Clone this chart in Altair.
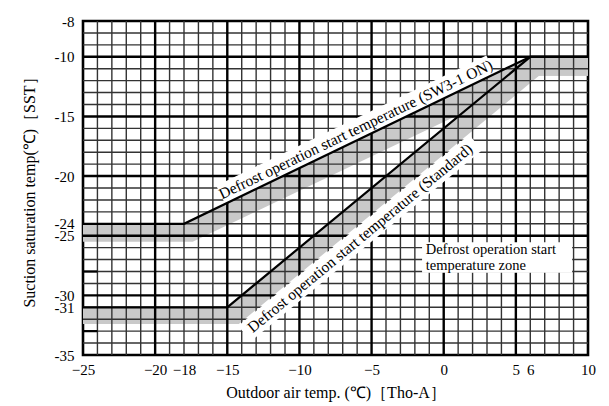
import altair as alt
import pandas as pd

# ---- axis ticks ----
x_ticks = [-25, -20, -18, -15, -10, -5, 0, 5, 6, 10]
y_tick_pos = [-35, -31, -30, -25, -24, -20, -15, -10, -7]
y_tick_text = ["-35", "-31", "-30", "-25", "-24", "-20", "-15", "-10", "-8"]

# ---- defrost lines ----
sw_x = [-25, -18, 6, 10]
sw_y = [-24, -24, -10, -10]
std_x = [-25, -15, 6, 10]
std_y = [-31, -31, -10, -10]

# ---- grey zone bands ----
sw_band_x = [-25, -18, -17.4, 6, 6.6, 10]
sw_band_top = [-24, -24, -23.65, -10, -10, -10]
sw_band_bot = [-25.5, -25.5, -25.5, -12.0, -11.6, -11.6]
std_band_x = [-25, -15, -14.2, 6, 6.6, 10]
std_band_top = [-31, -31, -30.2, -10, -10, -10]
std_band_bot = [-32.4, -32.4, -32.4, -12.2, -11.6, -11.6]

# ---- labels ----
label_texts = ["Defrost operation start temperature (SW3-1 ON)",
               "Defrost operation start temperature (Standard)"]
label_x = [-6.1, -5.8]
label_y = [-16.1, -25.2]
label_angle = [334.3, 320.4]
box_x1 = [-15.46, -13.81]
box_y1 = [-21.56, -33.21]
box_x2 = [3.26, 2.21]
box_y2 = [-10.64, -17.19]

zone_lines = ["Defrost operation start", "temperature zone"]
zone_x = [-1.25, -1.25]
zone_y = [-26.2, -27.5]
zone_box = {"x": -1.5, "x2": 8.9, "y": -25.55, "y2": -28.1}

# extra short ticks on the left edge
stub_y = [-28, -33]

XMIN, XMAX, YMIN, YMAX = -25, 10, -35, -7

minor_x = [v for v in range(XMIN + 1, XMAX) if v % 5 != 0]
major_x = [v for v in range(XMIN + 1, XMAX) if v % 5 == 0]
minor_y = [v for v in range(YMIN + 1, YMAX) if v % 5 != 0]
major_y = [v for v in range(YMIN + 1, YMAX) if v % 5 == 0]

label_expr = " : ".join(
    [f"datum.value == {p} ? '{t}'" for p, t in zip(y_tick_pos, y_tick_text)]
) + " : datum.label"

xscale = alt.Scale(domain=[XMIN, XMAX], nice=False, zero=False)
yscale = alt.Scale(domain=[YMIN, YMAX], nice=False, zero=False)
xaxis = alt.Axis(values=x_ticks, labelFlush=False, labelOverlap=False,
                 labelPadding=7, titlePadding=7,
                 title="Outdoor air temp. (℃)［Tho-A］")
yaxis = alt.Axis(values=y_tick_pos, labelExpr=label_expr, labelFlush=False,
                 labelOverlap=False, labelPadding=9, titlePadding=17,
                 title="Suction saturation temp(℃)［SST］")


def X(field="x"):
    return alt.X(field, type="quantitative", scale=xscale, axis=xaxis)


def Y(field="y"):
    return alt.Y(field, type="quantitative", scale=yscale, axis=yaxis)


band_df = pd.concat([
    pd.DataFrame({"x": sw_band_x, "y": sw_band_top, "y2": sw_band_bot, "g": "sw"}),
    pd.DataFrame({"x": std_band_x, "y": std_band_top, "y2": std_band_bot, "g": "std"}),
])
bands = alt.Chart(band_df).mark_area(color="#c9c9c9", opacity=1).encode(
    x=X(), y=Y(), y2="y2", detail="g:N")

vgrid_minor = alt.Chart(pd.DataFrame({"x": minor_x})).mark_rule(
    color="#333333", strokeWidth=1.4).encode(x=X())
hgrid_minor = alt.Chart(pd.DataFrame({"y": minor_y})).mark_rule(
    color="#333333", strokeWidth=1.4).encode(y=Y())
vgrid_major = alt.Chart(pd.DataFrame({"x": major_x})).mark_rule(
    color="black", strokeWidth=2.4).encode(x=X())
hgrid_major = alt.Chart(pd.DataFrame({"y": major_y})).mark_rule(
    color="black", strokeWidth=2.4).encode(y=Y())

stubs = alt.Chart(pd.DataFrame({"y": stub_y, "x": [XMIN] * 2, "x2": [XMIN + 1] * 2})).mark_rule(
    color="black", strokeWidth=2.2).encode(x=X(), x2="x2", y=Y())

boxes = alt.Chart(pd.DataFrame({"x": box_x1, "y": box_y1, "x2": box_x2, "y2": box_y2})).mark_rule(
    color="white", strokeWidth=20, strokeCap="butt").encode(x=X(), y=Y(), x2="x2", y2="y2")

zone_rect = alt.Chart(pd.DataFrame([zone_box])).mark_rect(color="white").encode(
    x=X(), x2="x2", y=Y(), y2="y2")

line_df = pd.concat([
    pd.DataFrame({"x": sw_x, "y": sw_y, "g": "sw"}),
    pd.DataFrame({"x": std_x, "y": std_y, "g": "std"}),
])
lines = alt.Chart(line_df).mark_line(color="black", strokeWidth=2.2).encode(
    x=X(), y=Y(), detail="g:N")

label_layers = []
for t, lx, ly, a in zip(label_texts, label_x, label_y, label_angle):
    label_layers.append(
        alt.Chart(pd.DataFrame({"x": [lx], "y": [ly], "t": [t]})).mark_text(
            font="Liberation Serif", fontSize=15.5, color="black", angle=a,
            align="center", baseline="middle").encode(x=X(), y=Y(), text="t:N"))

zone_text = alt.Chart(pd.DataFrame({"x": zone_x, "y": zone_y, "t": zone_lines})).mark_text(
    font="Liberation Serif", fontSize=14.5, color="black", align="left",
    baseline="middle").encode(x=X(), y=Y(), text="t:N")

chart = alt.layer(
    bands, vgrid_minor, hgrid_minor, vgrid_major, hgrid_major, stubs,
    boxes, zone_rect, lines, *label_layers, zone_text
).properties(
    width=505, height=334,
    autosize=alt.AutoSizeParams(type="none"),
    padding={"left": 75, "top": 13, "right": 10, "bottom": 50},
).configure_view(
    stroke="black", strokeWidth=2.6
).configure_axis(
    labelFont="Liberation Serif", labelFontSize=15, labelColor="black",
    titleFont="Liberation Serif", titleFontSize=16, titleFontWeight="normal",
    titleColor="black", domain=False, ticks=False, grid=False
)

chart.save("out.html", embed_options={"renderer": "svg", "actions": False})
